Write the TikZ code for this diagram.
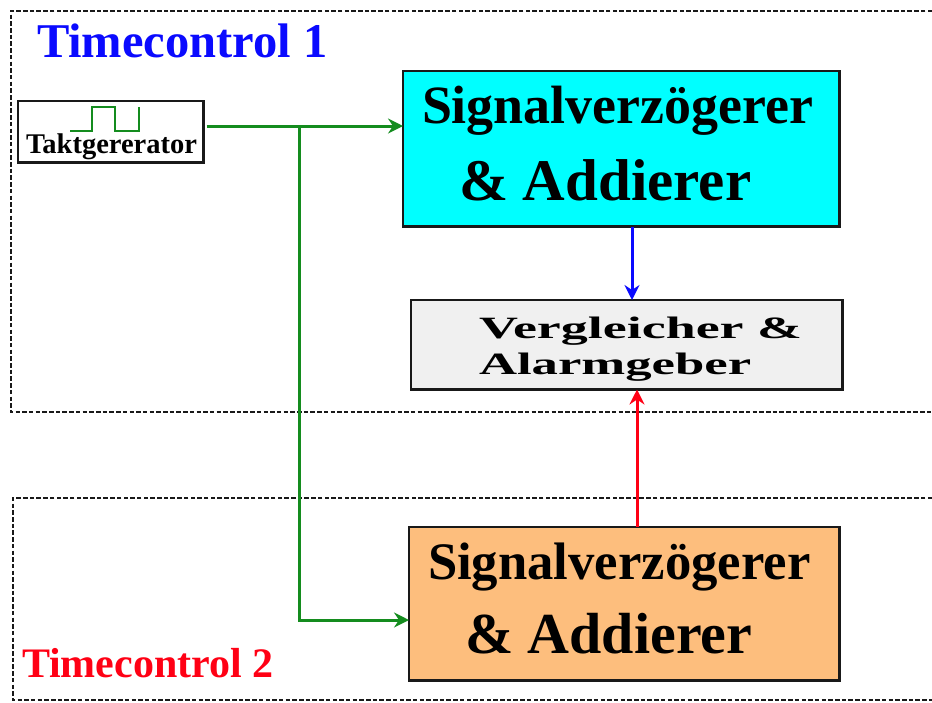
\documentclass[tikz,border=0pt]{standalone}
\usepackage{fontspec}
\setmainfont{Liberation Serif}
\usetikzlibrary{arrows.meta}
\definecolor{wire}{RGB}{20,140,30}
\definecolor{sandbox}{RGB}{253,190,125}
\definecolor{greybox}{RGB}{240,240,240}
\definecolor{edge}{RGB}{25,25,25}
\definecolor{aqua}{RGB}{0,255,255}
\definecolor{pureblue}{RGB}{10,10,255}
\definecolor{purered}{RGB}{255,0,20}
\newcommand{\fs}[1]{\fontsize{#1}{#1}\selectfont\bfseries}
\tikzset{
  x=1pt,y=-1pt,
  block/.style={draw=edge,line width=2.8pt,anchor=north west,inner sep=0pt,outer sep=0pt},
  frameline/.style={draw=edge,line width=2.2pt,dash pattern=on 4.5pt off 2.2pt},
  txt/.style={anchor=base west,inner sep=0pt,outer sep=0pt,text=black},
  wirearrow/.style={line width=3pt,-{Stealth[length=15pt,width=15pt,inset=5pt]}},
}
\begin{document}
\begin{tikzpicture}
\useasboundingbox (0,0) rectangle (932,702);
% frames
\coordinate (f1a) at (932,11); \coordinate (f1b) at (11,11);
\coordinate (f1c) at (11,412); \coordinate (f1d) at (932,412);
\coordinate (f2a) at (932,498); \coordinate (f2b) at (13,498);
\coordinate (f2c) at (13,700); \coordinate (f2d) at (932,700);
\draw[frameline] (f1a) -- (f1b) -- (f1c) -- (f1d);
\draw[frameline] (f2a) -- (f2b) -- (f2c) -- (f2d);
% blocks
\node[block,minimum width=185.5pt,minimum height=61.5pt] (takt) at (18,101) {};
\node[block,fill=aqua,minimum width=436.5pt,minimum height=155.5pt] (sig1) at (403,71) {};
\node[block,fill=greybox,minimum width=431.5pt,minimum height=89.5pt] (vgl) at (411,300) {};
\node[block,fill=sandbox,minimum width=430.5pt,minimum height=153.5pt] (sig2) at (409,527) {};
% texts
\node[txt,text=pureblue] (t1) at (37,57) {\fs{48.5}Timecontrol 1};
\node[txt,text=purered] (t2) at (22,677) {\fs{42}Timecontrol 2};
\node[txt] (taktlabel) at (26,153) {\fs{28.5}Taktgererator};
\node[txt] (s1a) at (422,123) {\fs{53.9}Signalverzögerer};
\node[txt] (s1b) at (459,200) {\fs{59}\& Addierer};
\node[txt] (s2a) at (428,579) {\fs{52.7}Signalverzögerer};
\node[txt] (s2b) at (465,653) {\fs{58}\& Addierer};
\node[txt] (v1) at (479,338) {\scalebox{1.74}[1]{\fs{31}Vergleicher \&}};
\node[txt] (v2) at (479,374) {\scalebox{1.70}[1]{\fs{31}Alarmgeber}};
% clock symbol
\coordinate (c0) at (70,131); \coordinate (c1) at (92,131); \coordinate (c2) at (92,107);
\coordinate (c3) at (115,107); \coordinate (c4) at (115,131); \coordinate (c5) at (139,131);
\coordinate (c6) at (139,107);
\draw[wire,line width=2.6pt] (c0) -- (c1) -- (c2) -- (c3) -- (c4) -- (c5) -- (c6);
% connectors
\coordinate (j) at (299,126);
\coordinate (k) at (299,620);
\coordinate (bx) at (632,0);
\coordinate (rx) at (637,0);
\draw[wire,wirearrow,shorten <=3pt] (j -| takt.east) -- (j -| sig1.west);
\draw[wire,wirearrow] (j) -- (k) -- (k -| sig2.west);
\draw[pureblue,wirearrow] (bx |- sig1.south) -- (bx |- vgl.north);
\draw[purered,wirearrow] (rx |- sig2.north) -- (rx |- vgl.south);
\end{tikzpicture}
\end{document}
